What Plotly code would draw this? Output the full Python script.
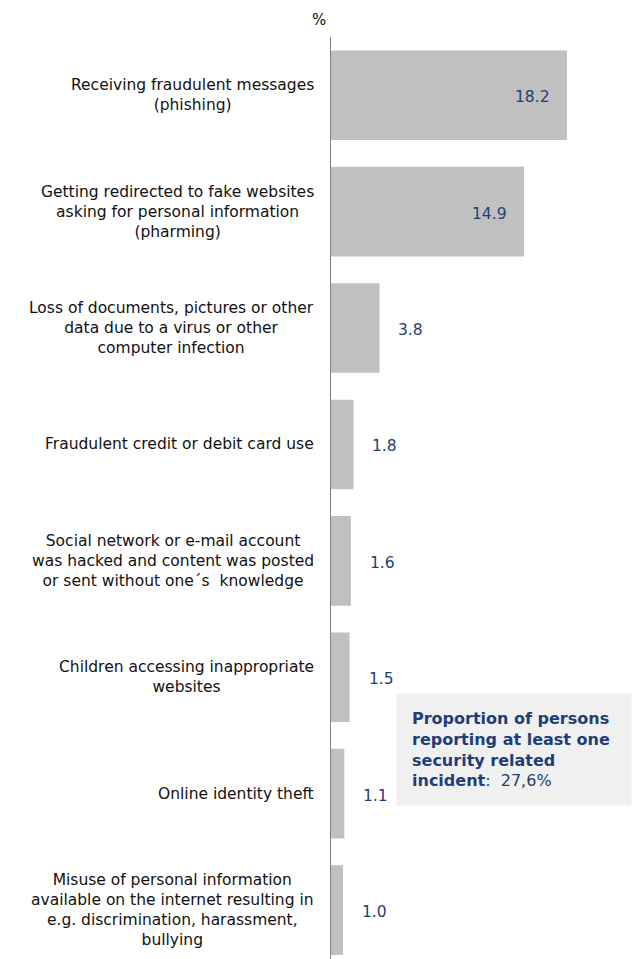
import plotly.graph_objects as go

categories = [
    "Receiving fraudulent messages<br>(phishing)",
    "Getting redirected to fake websites<br>asking for personal information<br>(pharming)",
    "Loss of documents, pictures or other<br>data due to a virus or other<br>computer infection",
    "Fraudulent credit or debit card use",
    "Social network or e-mail account<br>was hacked and content was posted<br>or sent without one´s  knowledge",
    "Children accessing inappropriate<br>websites",
    "Online identity theft",
    "Misuse of personal information<br>available on the internet resulting in<br>e.g. discrimination, harassment,<br>bullying",
]
values = [18.2, 14.9, 3.8, 1.8, 1.6, 1.5, 1.1, 1.0]
value_labels = ["18.2", "14.9", "3.8", "1.8", "1.6", "1.5", "1.1", "1.0"]
inside_threshold = 10

W, H = 632, 959
ML, MT = 330, 37
FONT = "DejaVu Sans"
NAVY = "#1f3e78"

idx = list(range(len(categories)))

fig = go.Figure()
fig.add_trace(go.Bar(
    x=values, y=idx, orientation="h",
    marker=dict(color="#c0c0c0", line=dict(width=0)),
    width=0.77, hoverinfo="skip",
))

annotations = []
# category labels, centred block right-aligned against the axis
for i, cat in enumerate(categories):
    annotations.append(dict(
        x=0, y=i, xref="x", yref="y", text=cat, showarrow=False,
        xanchor="right", yanchor="middle", align="center", xshift=-14,
        font=dict(family=FONT, size=15.5, color="#111111"),
    ))
# value labels
for i, (v, lab) in enumerate(zip(values, value_labels)):
    inside = v > inside_threshold
    annotations.append(dict(
        x=v, y=i, xref="x", yref="y", text=lab, showarrow=False,
        xanchor="right" if inside else "left",
        xshift=-15 if inside else 17, yshift=-2,
        font=dict(family=FONT, size=15.5, color=NAVY),
    ))
# unit label
annotations.append(dict(
    x=0, y=1, xref="x", yref="paper", yshift=6, text="%", showarrow=False,
    xanchor="center", yanchor="bottom", xshift=-11,
    font=dict(family=FONT, size=15, color="#111111"),
))
# summary box
annotations.append(dict(
    x=1, y=0.288, xref="paper", yref="paper", showarrow=False,
    xanchor="right", yanchor="top", align="left",
    text="<b>Proportion of persons<br>reporting at least one<br>security related<br>incident</b>:  27,6%",
    font=dict(family=FONT, size=16, color=NAVY),
    bgcolor="#f0f0f0", borderpad=15, width=204,
))

fig.update_layout(
    width=W, height=H,
    margin=dict(l=ML, r=0, t=MT, b=0),
    paper_bgcolor="white", plot_bgcolor="white",
    showlegend=False,
    xaxis=dict(range=[0, (W - ML) / 13.02], visible=False, fixedrange=True),
    yaxis=dict(range=[7.42, -0.5], showticklabels=False, showgrid=False,
               zeroline=False, showline=False, ticks=""),
    annotations=annotations,
    shapes=[dict(type="line", xref="x", yref="paper", x0=0, x1=0, y0=0, y1=1,
                 line=dict(color="#808080", width=2))],
)

fig.write_html("out.html")
